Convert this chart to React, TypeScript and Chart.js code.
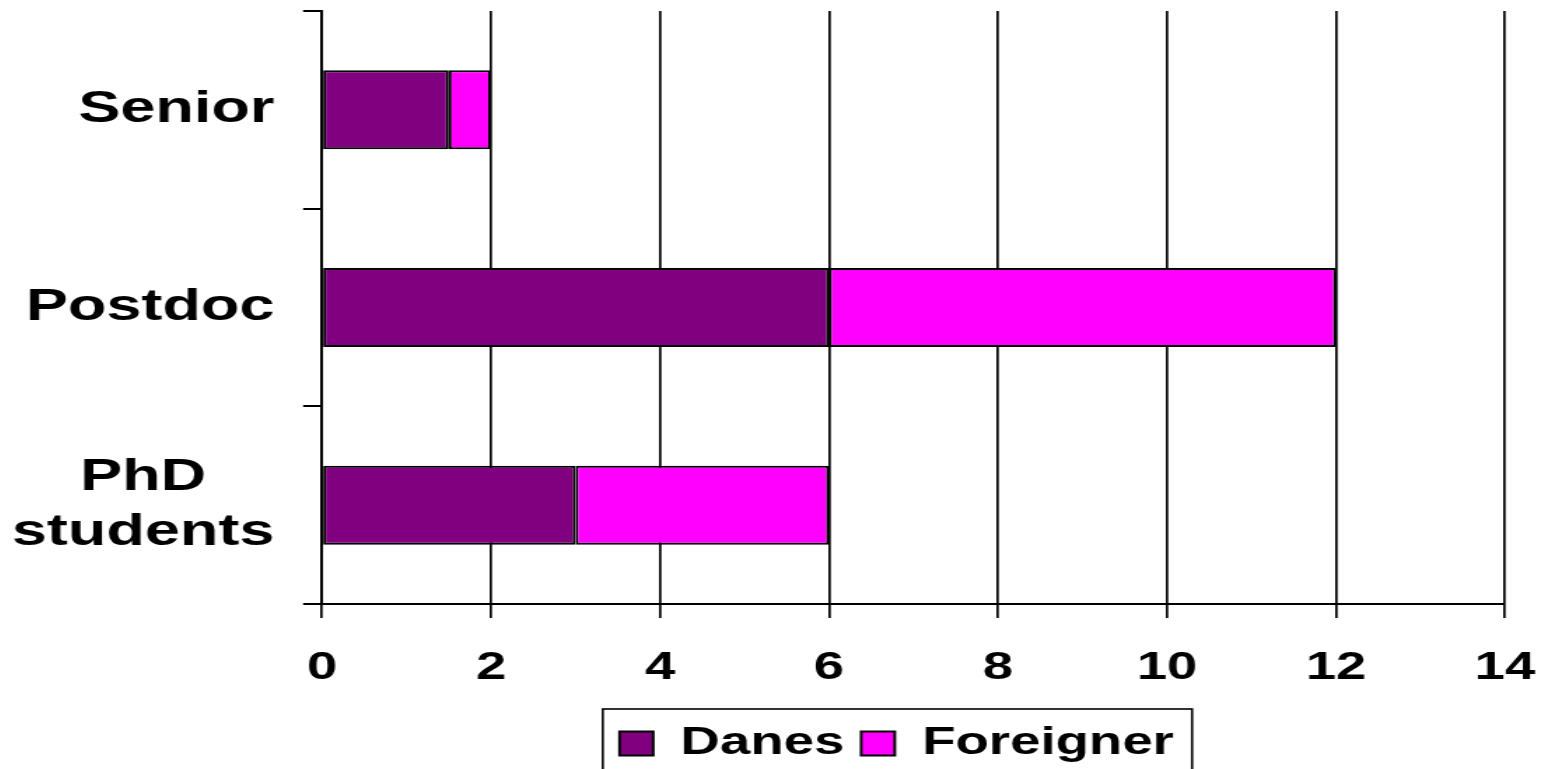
import React, { useEffect, useRef } from 'react';
import { Chart, registerables } from 'chart.js';

Chart.register(...registerables);

// chart values
const categories: (string | string[])[] = ['Senior', 'Postdoc', ['PhD', 'students']];
const danes = [1.5, 6, 3];
const foreigner = [0.5, 6, 3];
const seriesNames = ['Danes', 'Foreigner'];
const xTicks = [0, 2, 4, 6, 8, 10, 12, 14];

const FONT = "'Liberation Sans', Arial, sans-serif";
// the original chart is drawn stretched sideways, so we draw narrow and stretch the canvas
const STRETCH = 1.4;
const WIDTH = 1094;
const HEIGHT = 780;

// category labels: block right-aligned to the axis, lines centred inside the block
const categoryLabels = {
  id: 'categoryLabels',
  afterDraw(chart: any) {
    const { ctx, chartArea } = chart;
    const scale = chart.scales.y;
    ctx.save();
    ctx.font = `bold 45px ${FONT}`;
    ctx.fillStyle = '#000';
    ctx.textAlign = 'center';
    ctx.textBaseline = 'middle';
    categories.forEach((label, i) => {
      const lines = Array.isArray(label) ? label : [label];
      const widest = Math.max(...lines.map((l) => ctx.measureText(l).width));
      const cx = chartArea.left - 34 - widest / 2;
      const cy = scale.getPixelForTick(i);
      lines.forEach((line, j) => {
        ctx.fillText(line, cx, cy + (j - (lines.length - 1) / 2) * 55);
      });
    });
    ctx.restore();
  },
};

// frame round the legend, which sits a little left of the plot centre
const legendFrame = {
  id: 'legendFrame',
  afterLayout(chart: any) {
    const legend = chart.legend;
    if (!legend) return;
    legend.left -= 12;
    legend.right -= 12;
  },
  afterDraw(chart: any) {
    const legend = chart.legend;
    const boxes = legend?.legendHitBoxes;
    if (!boxes || !boxes.length) return;
    const last = boxes[boxes.length - 1];
    const left = boxes[0].left - 12;
    const right = last.left + last.width + 13;
    const top = legend.top - 3;
    const { ctx } = chart;
    ctx.save();
    ctx.strokeStyle = '#000';
    ctx.lineWidth = 1.6;
    ctx.strokeRect(left, top, right - left, legend.bottom + 30 - top);
    ctx.restore();
  },
};

const App: React.FC = () => {
  const canvasRef = useRef<HTMLCanvasElement>(null);

  useEffect(() => {
    document.body.style.overflow = 'hidden';
    if (!canvasRef.current) return;

    const chart = new Chart(canvasRef.current, {
      type: 'bar',
      data: {
        labels: categories,
        datasets: [
          {
            label: seriesNames[0],
            data: danes,
            backgroundColor: '#800080',
            borderColor: '#000',
            borderWidth: 2,
            borderSkipped: false,
            barPercentage: 0.4,
            categoryPercentage: 1,
          },
          {
            label: seriesNames[1],
            data: foreigner,
            backgroundColor: '#FF00FF',
            borderColor: '#000',
            borderWidth: 2,
            borderSkipped: false,
            barPercentage: 0.4,
            categoryPercentage: 1,
          },
        ],
      },
      options: {
        indexAxis: 'y',
        animation: false,
        responsive: true,
        maintainAspectRatio: false,
        layout: { padding: { top: 3, right: 24.7, bottom: 15, left: 0 } },
        scales: {
          x: {
            stacked: true,
            min: xTicks[0],
            max: xTicks[xTicks.length - 1],
            ticks: {
              stepSize: xTicks[1] - xTicks[0],
              color: '#000',
              padding: 27,
              maxRotation: 0,
              autoSkip: false,
              font: { family: FONT, size: 39, weight: 'bold' },
            },
            grid: {
              color: '#000',
              lineWidth: 1.7,
              tickLength: 14,
              tickColor: '#000',
              tickWidth: 1.7,
            },
            border: { display: true, color: '#000', width: 2 },
            afterFit(scale: any) {
              scale.height = 108;
              scale.paddingLeft = 0;
              scale.paddingRight = 0;
            },
          },
          y: {
            stacked: true,
            ticks: { display: false },
            grid: {
              offset: true,
              drawOnChartArea: false,
              tickLength: 13.5,
              color: '#000',
              lineWidth: 2,
            },
            border: { display: true, color: '#000', width: 2 },
            afterFit(scale: any) {
              scale.width = 224.3;
              scale.paddingTop = 0;
              scale.paddingBottom = 0;
            },
          },
        },
        plugins: {
          legend: {
            position: 'bottom',
            fullSize: false,
            labels: {
              boxWidth: 24,
              boxHeight: 24,
              padding: 12,
              color: '#000',
              font: { family: FONT, size: 39, weight: 'bold' },
            },
          },
          tooltip: { enabled: false },
        },
      },
      plugins: [categoryLabels, legendFrame],
    });

    return () => {
      chart.destroy();
    };
  }, []);

  return (
    <div
      style={{
        width: WIDTH,
        height: HEIGHT,
        transform: `scaleX(${STRETCH})`,
        transformOrigin: '0 0',
      }}
    >
      <canvas ref={canvasRef} />
    </div>
  );
};

export default App;
